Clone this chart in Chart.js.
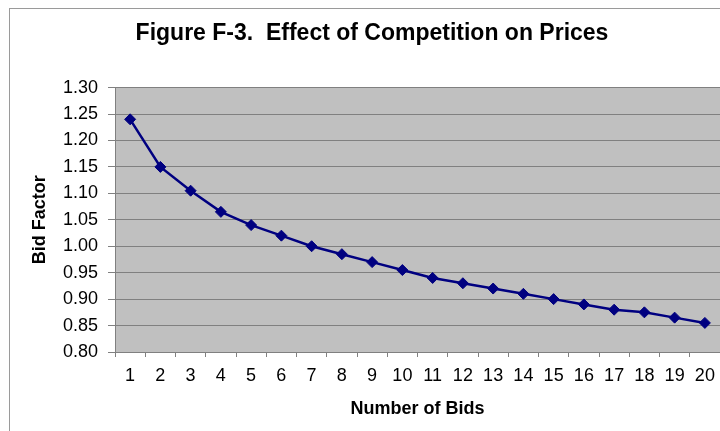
<!DOCTYPE html>
<html lang="en">
  <head>
    <meta charset="UTF-8" />
    <title>Effect of Competition on Prices</title>
    <style>
      body { margin: 0; background: #fff; overflow: hidden; }
      #frame {
        position: absolute; left: 9px; top: 8px; width: 800px; height: 500px;
        border-left: 1px solid #9a9a9a; border-top: 1px solid #9a9a9a;
      }
      #wrap { position: absolute; left: 0; top: 0; width: 744px; height: 431px; }
    </style>
  </head>
  <body>
    <div id="frame"></div>
    <div id="wrap"><canvas id="myChart" width="744" height="431"></canvas></div>
    <script src="https://cdn.jsdelivr.net/npm/chart.js"></script>
    <script>
      // values
      const bids = ["1", "2", "3", "4", "5", "6", "7", "8", "9", "10",
        "11", "12", "13", "14", "15", "16", "17", "18", "19", "20"];
      const bidFactor = [1.24, 1.15, 1.105, 1.065, 1.04, 1.02, 1.0, 0.985, 0.97, 0.955,
        0.94, 0.93, 0.92, 0.91, 0.9, 0.89, 0.88, 0.875, 0.865, 0.855];
      const yMin = 0.8;
      const yMax = 1.3;
      const yStep = 0.05;

      const fontFam = "'Liberation Sans', Arial, sans-serif";

      // gray plot area like the old excel chart
      const plotBg = {
        id: "plotBg",
        beforeDraw(chart) {
          const a = chart.chartArea;
          const ctx = chart.ctx;
          ctx.save();
          ctx.fillStyle = "#c0c0c0";
          ctx.fillRect(a.left, a.top, a.right - a.left, a.bottom - a.top);
          ctx.restore();
        },
      };

      const ctx = document.getElementById("myChart");
      new Chart(ctx, {
        type: "line",
        data: {
          labels: bids,
          datasets: [
            {
              label: "Bid Factor",
              data: bidFactor,
              borderColor: "#000080",
              backgroundColor: "#000080",
              borderWidth: 2.5,
              pointStyle: "rectRot",
              pointRadius: 5.5,
              pointBorderWidth: 1,
              tension: 0,
            },
          ],
        },
        options: {
          responsive: false,
          animation: false,
          layout: { padding: { left: 24, right: 24, top: 20, bottom: 0 } },
          plugins: {
            legend: { display: false },
            tooltip: { enabled: false },
            title: {
              display: true,
              text: "Figure F-3.  Effect of Competition on Prices",
              color: "#000",
              font: { family: fontFam, size: 23, weight: "bold", lineHeight: 1.2 },
              padding: { top: 0, bottom: 40 },
            },
          },
          scales: {
            x: {
              offset: true,
              afterFit(scale) { scale.height = 79; },
              grid: {
                offset: true,
                drawOnChartArea: false,
                drawTicks: true,
                tickLength: 5,
                color: "#808080",
              },
              border: { color: "#808080", width: 1 },
              ticks: {
                color: "#000",
                font: { family: fontFam, size: 18 },
                padding: 8,
                maxRotation: 0,
                autoSkip: false,
              },
              title: {
                display: true,
                text: "Number of Bids",
                color: "#000",
                font: { family: fontFam, size: 18, weight: "bold", lineHeight: 1.2 },
                padding: { top: 0, bottom: 11 },
              },
            },
            y: {
              min: yMin,
              max: yMax,
              afterFit(scale) { scale.width = 91; },
              grid: { color: "#808080", tickLength: 7, lineWidth: 1 },
              border: { color: "#808080", width: 1 },
              ticks: {
                stepSize: yStep,
                color: "#000",
                font: { family: fontFam, size: 18 },
                padding: 10,
                callback: (v) => v.toFixed(2),
              },
              title: {
                display: true,
                text: "Bid Factor",
                color: "#000",
                font: { family: fontFam, size: 18, weight: "bold", lineHeight: 1.2 },
                padding: { top: 5, bottom: 0 },
              },
            },
          },
        },
        plugins: [plotBg],
      });
    </script>
  </body>
</html>
